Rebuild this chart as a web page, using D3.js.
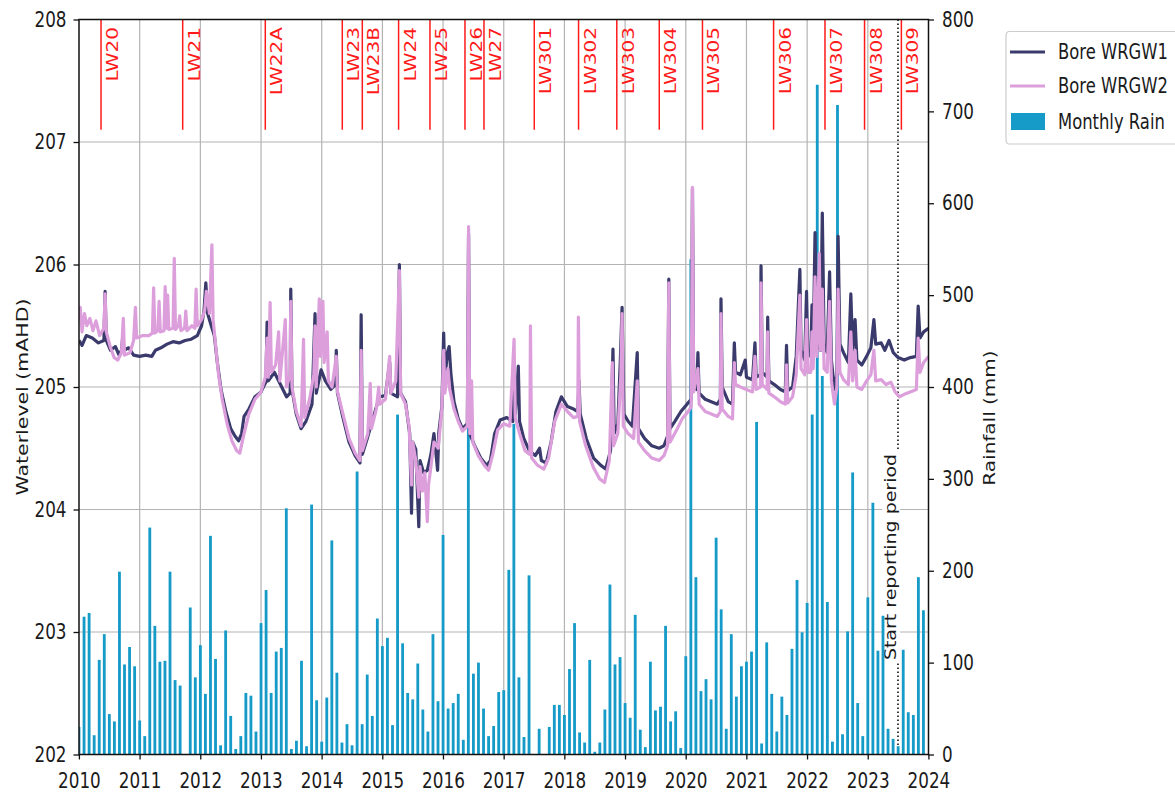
<!DOCTYPE html>
<html>
<head>
<meta charset="utf-8">
<script src="https://cdn.jsdelivr.net/npm/d3@7"></script>
<style>
  body { margin: 0; background: #ffffff; }
  text { font-family: "DejaVu Sans", sans-serif; }
</style>
</head>
<body>
<div id="chart"></div>
<script>
// ---- data ----

// Monthly rain (mm), one row per year, Jan..Dec, starting 2010
const rainStartYear = 2010;
const monthlyRain = [
    30, 150, 154, 21, 103, 131, 44, 36, 199, 98, 117, 96,      // 2010
    37, 20, 247, 140, 101, 102, 199, 81, 75, 0, 160, 84,       // 2011
    119, 66, 238, 104, 10, 135, 42, 6, 20, 67, 64, 25,         // 2012
    143, 179, 67, 112, 116, 268, 6, 15, 102, 9, 272, 59,       // 2013
    14, 62, 233, 89, 13, 33, 10, 308, 33, 87, 42, 148,         // 2014
    118, 127, 32, 370, 121, 67, 60, 99, 49, 25, 131, 58,       // 2015
    239, 50, 56, 66, 16, 395, 88, 100, 50, 20, 31, 68,         // 2016
    70, 201, 360, 84, 19, 195, 0, 28, 0, 30, 54, 54,           // 2017
    43, 93, 143, 24, 13, 103, 3, 13, 49, 185, 98, 106,         // 2018
    56, 40, 152, 27, 8, 101, 48, 52, 140, 36, 47, 7,           // 2019
    107, 539, 193, 69, 82, 60, 236, 158, 28, 131, 63, 96,      // 2020
    101, 112, 362, 12, 122, 66, 25, 63, 43, 115, 190, 133,     // 2021
    165, 370, 729, 412, 166, 14, 707, 22, 134, 307, 56, 20,    // 2022
    171, 274, 113, 151, 28, 17, 9, 114, 46, 43, 193, 157       // 2023
];

const yearTicks = [2010, 2011, 2012, 2013, 2014, 2015, 2016, 2017, 2018, 2019, 2020, 2021, 2022, 2023, 2024];
const levelTicks = [202, 203, 204, 205, 206, 207, 208];
const rainTicks = [0, 100, 200, 300, 400, 500, 600, 700, 800];

// Bore water levels [decimal year, mAHD]
const wrgw1 = [
    [2010.00,205.38],[2010.05,205.34],[2010.12,205.42],[2010.22,205.40],[2010.32,205.36],[2010.41,205.38],[2010.43,205.78],[2010.45,205.38],
    [2010.52,205.30],[2010.60,205.33],[2010.66,205.26],[2010.70,205.30],[2010.72,205.40],[2010.74,205.30],[2010.82,205.32],[2010.90,205.26],
    [2011.00,205.25],[2011.10,205.26],[2011.20,205.25],[2011.26,205.30],[2011.35,205.32],[2011.45,205.35],[2011.55,205.37],[2011.65,205.36],
    [2011.75,205.38],[2011.85,205.39],[2011.95,205.42],[2012.02,205.50],[2012.06,205.62],[2012.09,205.85],[2012.12,205.60],[2012.18,205.50],
    [2012.23,205.42],[2012.28,205.20],[2012.34,204.98],[2012.42,204.80],[2012.50,204.66],[2012.57,204.60],[2012.63,204.56],[2012.68,204.62],
    [2012.72,204.76],[2012.80,204.82],[2012.90,204.92],[2013.00,204.96],[2013.08,205.04],[2013.10,205.53],[2013.12,205.05],[2013.22,205.12],
    [2013.32,205.02],[2013.42,204.92],[2013.48,204.95],[2013.49,205.80],[2013.51,204.98],[2013.58,204.78],[2013.66,204.66],[2013.74,204.72],
    [2013.84,204.86],[2013.89,205.60],[2013.91,204.95],[2013.99,205.14],[2014.06,205.05],[2014.15,204.98],[2014.23,205.02],[2014.24,205.30],
    [2014.26,204.95],[2014.35,204.75],[2014.45,204.55],[2014.55,204.44],[2014.63,204.38],[2014.65,205.59],[2014.67,204.45],[2014.75,204.58],
    [2014.85,204.75],[2014.95,204.92],[2015.05,204.93],[2015.12,205.20],[2015.14,204.95],[2015.25,204.92],[2015.28,206.00],[2015.30,204.95],
    [2015.38,204.88],[2015.45,204.62],[2015.48,203.97],[2015.50,204.55],[2015.55,204.49],[2015.60,203.86],[2015.62,204.40],[2015.68,204.30],
    [2015.74,204.32],[2015.80,204.45],[2015.85,204.62],[2015.91,204.32],[2015.93,204.63],[2015.98,204.84],[2016.01,205.44],[2016.03,205.05],
    [2016.07,205.28],[2016.10,205.33],[2016.13,205.10],[2016.18,204.88],[2016.25,204.74],[2016.32,204.66],[2016.40,204.70],[2016.42,206.25],
    [2016.44,204.62],[2016.52,204.52],[2016.62,204.42],[2016.72,204.36],[2016.78,204.40],[2016.85,204.62],[2016.94,204.73],[2017.05,204.75],
    [2017.15,204.72],[2017.17,205.10],[2017.19,204.78],[2017.24,205.17],[2017.26,204.72],[2017.33,204.58],[2017.42,204.48],[2017.52,204.44],
    [2017.59,204.50],[2017.62,204.40],[2017.70,204.38],[2017.78,204.55],[2017.86,204.80],[2017.95,204.92],[2018.05,204.84],[2018.15,204.82],
    [2018.22,204.80],[2018.24,205.05],[2018.26,204.78],[2018.36,204.58],[2018.48,204.42],[2018.60,204.36],[2018.68,204.33],[2018.76,204.48],
    [2018.80,205.31],[2018.82,204.62],[2018.88,204.70],[2018.92,205.20],[2018.95,205.65],[2018.98,204.78],[2019.05,204.72],[2019.12,204.68],
    [2019.20,205.28],[2019.22,204.66],[2019.32,204.58],[2019.44,204.52],[2019.56,204.50],[2019.64,204.52],[2019.70,204.60],[2019.72,205.88],
    [2019.74,204.66],[2019.82,204.72],[2019.92,204.80],[2020.02,204.86],[2020.09,204.90],[2020.11,206.62],[2020.13,205.02],[2020.18,204.98],
    [2020.20,205.28],[2020.22,204.95],[2020.32,204.90],[2020.42,204.88],[2020.52,204.86],[2020.57,204.90],[2020.58,205.72],[2020.60,205.00],
    [2020.70,204.88],[2020.77,204.86],[2020.80,205.36],[2020.82,205.12],[2020.90,205.10],[2020.98,205.22],[2021.00,205.08],[2021.10,205.06],
    [2021.14,205.36],[2021.16,205.08],[2021.23,205.10],[2021.24,205.99],[2021.26,205.12],[2021.34,205.08],[2021.35,205.57],[2021.37,205.05],
    [2021.46,205.02],[2021.56,204.98],[2021.64,204.96],[2021.66,205.34],[2021.68,204.97],[2021.76,205.00],[2021.82,205.25],[2021.88,205.96],
    [2021.90,205.30],[2021.96,205.22],[2021.99,205.78],[2022.01,205.28],[2022.06,205.25],[2022.08,205.67],[2022.10,205.30],[2022.13,206.26],
    [2022.16,205.35],[2022.22,205.30],[2022.25,206.42],[2022.28,205.35],[2022.33,205.28],[2022.37,205.94],[2022.40,205.22],[2022.45,204.98],
    [2022.49,205.10],[2022.51,206.23],[2022.54,205.35],[2022.60,205.28],[2022.68,205.20],[2022.72,205.76],[2022.75,205.30],[2022.79,205.55],
    [2022.82,205.22],[2022.90,205.18],[2022.98,205.25],[2023.05,205.32],[2023.10,205.55],[2023.13,205.35],[2023.22,205.36],[2023.28,205.30],
    [2023.35,205.38],[2023.42,205.28],[2023.50,205.24],[2023.60,205.22],[2023.70,205.24],[2023.80,205.25],[2023.83,205.66],[2023.86,205.40],
    [2023.92,205.45],[2024.00,205.48]
];

const wrgw2 = [
    [2010.00,205.55],[2010.02,205.65],[2010.05,205.45],[2010.09,205.60],[2010.13,205.50],[2010.18,205.56],[2010.23,205.46],[2010.28,205.54],
    [2010.34,205.42],[2010.41,205.48],[2010.43,205.76],[2010.45,205.45],[2010.52,205.32],[2010.58,205.24],[2010.64,205.22],[2010.70,205.28],
    [2010.73,205.56],[2010.75,205.26],[2010.84,205.28],[2010.90,205.38],[2010.93,205.65],[2010.95,205.40],[2011.05,205.42],[2011.15,205.42],
    [2011.21,205.44],[2011.23,205.81],[2011.25,205.44],[2011.30,205.46],[2011.32,205.70],[2011.34,205.45],[2011.40,205.46],[2011.42,205.82],
    [2011.44,205.48],[2011.46,205.75],[2011.48,205.47],[2011.55,205.48],[2011.57,206.05],[2011.59,205.47],[2011.64,205.50],[2011.66,205.58],
    [2011.68,205.46],[2011.74,205.48],[2011.76,205.62],[2011.78,205.46],[2011.86,205.50],[2011.91,205.48],[2011.93,205.80],[2011.95,205.50],
    [2012.02,205.55],[2012.07,205.62],[2012.10,205.78],[2012.15,205.60],[2012.19,206.16],[2012.21,205.55],[2012.25,205.35],[2012.30,205.10],
    [2012.36,204.90],[2012.44,204.70],[2012.52,204.56],[2012.60,204.48],[2012.65,204.46],[2012.72,204.62],[2012.80,204.78],[2012.90,204.90],
    [2013.00,204.96],[2013.07,205.08],[2013.10,205.40],[2013.12,205.08],[2013.15,205.69],[2013.17,205.12],[2013.24,205.18],[2013.29,205.45],
    [2013.31,205.05],[2013.40,205.55],[2013.42,205.00],[2013.48,205.10],[2013.49,205.70],[2013.51,205.00],[2013.58,204.80],[2013.66,204.68],
    [2013.70,205.39],[2013.72,204.75],[2013.80,204.90],[2013.87,205.10],[2013.89,205.50],[2013.91,205.00],[2013.96,205.72],[2013.98,205.25],
    [2014.02,205.70],[2014.04,205.20],[2014.09,205.45],[2014.11,205.05],[2014.17,205.00],[2014.24,205.25],[2014.26,204.96],[2014.35,204.78],
    [2014.45,204.58],[2014.55,204.46],[2014.63,204.40],[2014.65,205.30],[2014.67,204.48],[2014.76,204.62],[2014.80,205.03],[2014.82,204.66],
    [2014.90,204.82],[2014.94,205.00],[2014.96,204.86],[2015.05,204.90],[2015.12,205.25],[2015.14,204.95],[2015.22,205.05],[2015.28,205.95],
    [2015.30,204.95],[2015.38,204.86],[2015.44,204.68],[2015.48,204.20],[2015.50,204.55],[2015.55,204.40],[2015.60,204.10],[2015.62,204.35],
    [2015.66,204.15],[2015.70,204.30],[2015.74,203.90],[2015.76,204.20],[2015.80,204.35],[2015.85,204.55],[2015.92,204.50],[2015.98,204.82],
    [2016.01,205.30],[2016.03,204.95],[2016.08,205.15],[2016.11,204.98],[2016.18,204.82],[2016.25,204.72],[2016.32,204.64],[2016.40,204.68],
    [2016.42,206.31],[2016.44,204.62],[2016.47,205.05],[2016.49,204.55],[2016.58,204.44],[2016.68,204.36],[2016.75,204.32],[2016.82,204.45],
    [2016.90,204.65],[2017.00,204.70],[2017.10,204.68],[2017.17,205.39],[2017.19,204.75],[2017.26,204.62],[2017.35,204.48],[2017.43,204.45],
    [2017.44,205.50],[2017.46,204.42],[2017.56,204.36],[2017.66,204.33],[2017.74,204.42],[2017.84,204.72],[2017.95,204.86],[2018.05,204.80],
    [2018.15,204.75],[2018.22,204.76],[2018.23,205.57],[2018.25,204.72],[2018.35,204.52],[2018.48,204.34],[2018.58,204.25],[2018.66,204.22],
    [2018.74,204.40],[2018.79,205.20],[2018.81,204.52],[2018.88,204.62],[2018.93,205.10],[2018.95,205.60],[2018.97,204.68],[2019.05,204.62],
    [2019.14,204.58],[2019.20,205.05],[2019.22,204.55],[2019.32,204.48],[2019.44,204.42],[2019.56,204.40],[2019.64,204.44],[2019.70,204.52],
    [2019.72,205.85],[2019.74,204.55],[2019.84,204.64],[2019.94,204.74],[2020.04,204.80],[2020.09,204.84],[2020.11,206.63],[2020.13,204.96],
    [2020.20,205.15],[2020.22,204.86],[2020.32,204.80],[2020.42,204.78],[2020.52,204.76],[2020.57,204.80],[2020.58,205.60],[2020.60,204.82],
    [2020.70,204.76],[2020.77,204.74],[2020.80,205.20],[2020.82,205.02],[2020.90,205.00],[2021.00,204.98],[2021.10,204.96],[2021.14,205.25],
    [2021.16,204.98],[2021.23,205.00],[2021.24,205.85],[2021.26,205.02],[2021.34,204.98],[2021.35,205.45],[2021.37,204.95],[2021.46,204.92],
    [2021.56,204.88],[2021.64,204.86],[2021.66,205.18],[2021.68,204.87],[2021.76,204.92],[2021.82,205.10],[2021.88,205.75],[2021.90,205.15],
    [2021.96,205.10],[2021.99,205.55],[2022.01,205.12],[2022.06,205.12],[2022.08,205.45],[2022.10,205.15],[2022.13,205.90],[2022.16,205.25],
    [2022.20,206.09],[2022.22,205.30],[2022.25,205.80],[2022.28,205.15],[2022.33,205.12],[2022.37,205.70],[2022.40,205.05],[2022.45,204.86],
    [2022.49,205.00],[2022.51,205.80],[2022.54,205.12],[2022.60,205.06],[2022.68,205.02],[2022.72,205.45],[2022.75,205.05],[2022.79,205.30],
    [2022.82,205.00],[2022.90,204.98],[2022.98,205.05],[2023.05,205.10],[2023.10,205.30],[2023.13,205.05],[2023.22,205.06],[2023.30,205.02],
    [2023.38,205.04],[2023.45,204.96],[2023.52,204.92],[2023.60,204.94],[2023.70,204.96],[2023.80,204.98],[2023.83,205.40],[2023.86,205.12],
    [2023.92,205.20],[2024.00,205.25]
];

// Longwall panel start dates (decimal years)
const lwNames = ["LW20", "LW21", "LW22A", "LW23", "LW23B", "LW24", "LW25", "LW26", "LW27",
                 "LW301", "LW302", "LW303", "LW304", "LW305", "LW306", "LW307", "LW308", "LW309"];
const lwDates = [2010.363, 2011.709, 2013.070, 2014.339, 2014.669, 2015.267, 2015.784, 2016.361, 2016.674,
                 2017.503, 2018.233, 2018.863, 2019.563, 2020.275, 2021.447, 2022.294, 2022.946, 2023.553];

const reportStart = 2023.497;
const legendNames = ["Bore WRGW1", "Bore WRGW2", "Monthly Rain"];

(function() {
    // 1. Setup: the original picture is squeezed horizontally, so draw wider and scale x
    const W = 1175, H = 793;
    const sx = 0.8;
    const px = v => v / sx;          // screen x -> drawing x
    const top = 19.5, bottom = 754.5;

    const colors = {w1: "#3a3a6c", w2: "#dc9fdc", rain: "#169bc8", lw: "#ff1a1a", grid: "#b4b4b4", text: "#1a1a1a"};

    const svg = d3.select("#chart")
        .append("svg")
        .attr("width", W)
        .attr("height", H);

    const g = svg.append("g").attr("transform", `scale(${sx},1)`);

    // 2. Scales
    const x = d3.scaleLinear().domain([2010, 2024]).range([px(79), px(928.5)]);
    const yL = d3.scaleLinear().domain([202, 208]).range([bottom, top]);
    const yR = d3.scaleLinear().domain([0, 800]).range([bottom, top]);

    g.append("clipPath").attr("id", "plotClip")
        .append("rect")
        .attr("x", x(2010)).attr("y", top)
        .attr("width", x(2024) - x(2010)).attr("height", bottom - top);

    // 3. Gridlines
    const grid = g.append("g");
    grid.selectAll(".vgrid")
        .data(yearTicks.slice(1, -1))
        .join("line")
        .attr("x1", d => x(d)).attr("x2", d => x(d))
        .attr("y1", top).attr("y2", bottom)
        .attr("stroke", colors.grid).attr("stroke-width", 1.2)
        .attr("vector-effect", "non-scaling-stroke");
    grid.selectAll(".hgrid")
        .data(levelTicks.slice(1, -1))
        .join("line")
        .attr("x1", x(2010)).attr("x2", x(2024))
        .attr("y1", d => yL(d)).attr("y2", d => yL(d))
        .attr("stroke", colors.grid).attr("stroke-width", 1.2);

    // 4. Start of reporting period (dotted line + label with white box)
    g.append("line")
        .attr("x1", x(reportStart)).attr("x2", x(reportStart))
        .attr("y1", top).attr("y2", bottom)
        .attr("stroke", "#111").attr("stroke-width", 1.6)
        .attr("stroke-dasharray", "1.5,2.5")
        .attr("vector-effect", "non-scaling-stroke");

    const rep = g.append("g")
        .attr("transform", `translate(${x(reportStart) - px(1.5)}, 557) rotate(-90)`);
    const repText = rep.append("text")
        .attr("text-anchor", "middle")
        .style("font-size", "19px")
        .style("fill", colors.text)
        .text("Start reporting period");
    const bb = repText.node().getBBox();
    rep.insert("rect", "text")
        .attr("x", bb.x - 3).attr("y", bb.y)
        .attr("width", bb.width + 6).attr("height", bb.height)
        .attr("fill", "#fff");

    // 5. Monthly rain bars (right axis)
    const rainData = monthlyRain.map((v, i) => ({t: rainStartYear + i / 12, v: v}));
    const barW = x(2010 + 17 / 365) - x(2010);
    g.append("g")
        .attr("clip-path", "url(#plotClip)")
        .selectAll("rect")
        .data(rainData)
        .join("rect")
        .attr("x", d => x(d.t) - barW / 2)
        .attr("width", barW)
        .attr("y", d => yR(d.v))
        .attr("height", d => yR(0) - yR(d.v))
        .attr("fill", colors.rain);

    // 6. Bore lines (left axis)
    const line = d3.line()
        .x(d => x(d[0]))
        .y(d => yL(d[1]));

    const lines = g.append("g").attr("clip-path", "url(#plotClip)");
    lines.append("path")
        .datum(wrgw1)
        .attr("fill", "none")
        .attr("stroke", colors.w1)
        .attr("stroke-width", 3.2)
        .attr("stroke-linejoin", "round")
        .attr("vector-effect", "non-scaling-stroke")
        .attr("d", line);
    lines.append("path")
        .datum(wrgw2)
        .attr("fill", "none")
        .attr("stroke", colors.w2)
        .attr("stroke-width", 3.2)
        .attr("stroke-linejoin", "round")
        .attr("vector-effect", "non-scaling-stroke")
        .attr("d", line);

    // 7. Longwall markers
    const lw = g.append("g");
    lw.selectAll("line")
        .data(lwDates)
        .join("line")
        .attr("x1", d => x(d)).attr("x2", d => x(d))
        .attr("y1", yL(208)).attr("y2", yL(207.1))
        .attr("stroke", colors.lw).attr("stroke-width", 1.5)
        .attr("vector-effect", "non-scaling-stroke");
    lw.selectAll("text")
        .data(lwDates)
        .join("text")
        .attr("transform", d => `translate(${x(d) + px(17)}, 27) rotate(-90)`)
        .attr("text-anchor", "end")
        .style("font-size", "20px")
        .style("fill", colors.lw)
        .text((d, i) => lwNames[i]);

    // 8. Axes
    const styleAxis = sel => {
        sel.select(".domain").remove();
        sel.attr("font-family", null).attr("font-size", null);
        sel.selectAll("line").attr("stroke", "#111").attr("stroke-width", 1.3)
            .attr("vector-effect", "non-scaling-stroke");
        sel.selectAll("text").style("font-size", "21px").style("fill", colors.text);
    };

    g.append("g")
        .attr("transform", `translate(${x(2010)},0)`)
        .call(d3.axisLeft(yL).tickValues(levelTicks).tickFormat(d3.format("d"))
            .tickSize(px(5.5)).tickPadding(px(7)).tickSizeOuter(0))
        .call(styleAxis);

    g.append("g")
        .attr("transform", `translate(0,${bottom})`)
        .call(d3.axisBottom(x).tickValues(yearTicks).tickFormat(d3.format("d"))
            .tickSize(5).tickPadding(14).tickSizeOuter(0))
        .call(styleAxis);

    g.append("g")
        .attr("transform", `translate(${x(2024)},0)`)
        .call(d3.axisRight(yR).tickValues(rainTicks).tickFormat(d3.format("d"))
            .tickSize(px(5.5)).tickPadding(px(8)).tickSizeOuter(0))
        .call(styleAxis);

    // plot frame
    g.append("rect")
        .attr("x", x(2010)).attr("y", top)
        .attr("width", x(2024) - x(2010)).attr("height", bottom - top)
        .attr("fill", "none")
        .attr("stroke", "#111").attr("stroke-width", 1.5)
        .attr("vector-effect", "non-scaling-stroke");

    // 9. Axis labels
    g.append("text")
        .attr("transform", `translate(${px(28)}, 397) rotate(-90)`)
        .attr("text-anchor", "middle")
        .style("font-size", "20.5px")
        .style("fill", colors.text)
        .text("Waterlevel (mAHD)");

    g.append("text")
        .attr("transform", `translate(${px(995)}, 418) rotate(-90)`)
        .attr("text-anchor", "middle")
        .style("font-size", "20px")
        .style("fill", colors.text)
        .text("Rainfall (mm)");

    // 10. Legend
    const legend = g.append("g").attr("transform", `translate(${px(1006)}, 31.5)`);
    legend.append("rect")
        .attr("width", px(180)).attr("height", 112.5)
        .attr("rx", 4)
        .attr("fill", "#fff")
        .attr("stroke", "#cccccc").attr("stroke-width", 1.2)
        .attr("vector-effect", "non-scaling-stroke");

    const rowY = [20.5, 54.5, 90];
    const swatch = [colors.w1, colors.w2, colors.rain];
    legendNames.forEach((name, i) => {
        const row = legend.append("g").attr("transform", `translate(0, ${rowY[i]})`);
        if (i < 2) {
            row.append("line")
                .attr("x1", px(4)).attr("x2", px(39))
                .attr("stroke", swatch[i]).attr("stroke-width", 3.2);
        } else {
            row.append("rect")
                .attr("x", px(5)).attr("y", -8.5)
                .attr("width", px(34)).attr("height", 17)
                .attr("fill", swatch[i]);
        }
        row.append("text")
            .attr("x", px(52))
            .attr("dy", "0.35em")
            .style("font-size", "20.5px")
            .style("fill", colors.text)
            .text(name);
    });
})();
</script>
</body>
</html>
